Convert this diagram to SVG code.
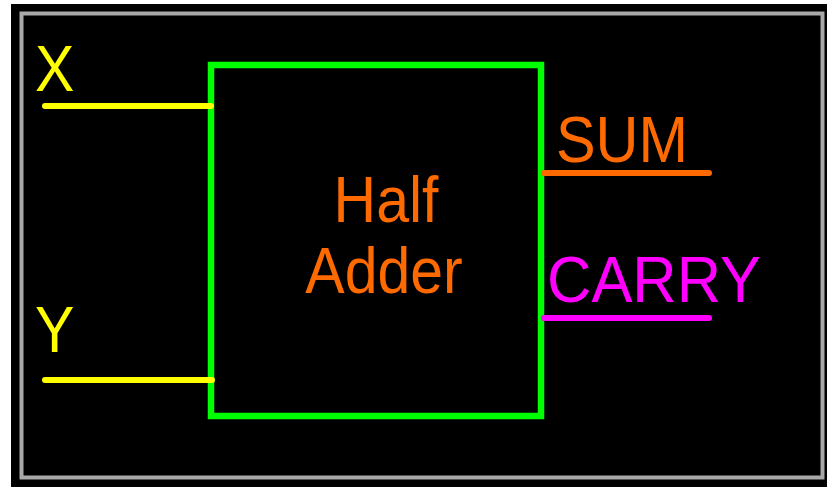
<svg xmlns="http://www.w3.org/2000/svg" width="827" height="487" viewBox="0 0 827 487">
  <style>
    .lbl { font-family: "Liberation Sans", Arial, sans-serif; font-size: 59px; }
    .wire { stroke-width: 6; stroke-linecap: round; fill: none; }
    .yel { fill: #ffff00; }
    .org { fill: #ff6a00; }
    .mag { fill: #ff00ff; }
  </style>
  <defs>
    <filter id="soft" x="-5%" y="-5%" width="110%" height="110%">
      <feGaussianBlur stdDeviation="0.6"/>
    </filter>
  </defs>

  <!-- page and frame -->
  <rect x="0" y="0" width="827" height="487" fill="#ffffff"/>
  <rect x="11" y="4" width="816" height="483" fill="#000000"/>
  <rect x="21.5" y="13.5" width="801" height="464" fill="none" stroke="#a8a8a8" stroke-width="4" filter="url(#soft)"/>

  <g filter="url(#soft)">
    <!-- half adder block -->
    <g id="half-adder">
      <rect x="211" y="65" width="330" height="351" fill="none" stroke="#00ff00" stroke-width="6.5"/>
      <text class="lbl org" text-anchor="middle" transform="translate(386,222) scale(1,1.1)">Half</text>
      <text class="lbl org" text-anchor="middle" transform="translate(384,293) scale(1,1.1)">Adder</text>
    </g>

    <!-- ports -->
    <g id="port-x">
      <text class="lbl yel" transform="translate(35,91) scale(1,1.1)">X</text>
    </g>
    <g id="port-y">
      <text class="lbl yel" transform="translate(35,352) scale(1,1.1)">Y</text>
    </g>
    <g id="port-sum">
      <text class="lbl org" transform="translate(556,162) scale(1,1.1)" textLength="132" lengthAdjust="spacingAndGlyphs">SUM</text>
    </g>
    <g id="port-carry">
      <text class="lbl mag" transform="translate(547,302) scale(1,1.1)" textLength="214" lengthAdjust="spacingAndGlyphs">CARRY</text>
    </g>

    <!-- wires -->
    <g id="connectors">
      <line class="wire" x1="45" y1="106" x2="211" y2="106" stroke="#ffff00"/>
      <line class="wire" x1="45" y1="380" x2="212" y2="380" stroke="#ffff00"/>
      <line class="wire" x1="544" y1="173" x2="709" y2="173" stroke="#ff6a00"/>
      <line class="wire" x1="544" y1="318" x2="709" y2="318" stroke="#ff00ff"/>
    </g>
  </g>
</svg>
